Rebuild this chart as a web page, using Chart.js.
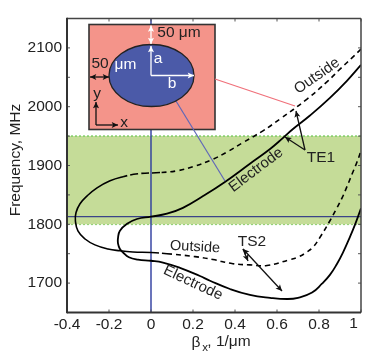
<!DOCTYPE html>
<html>
<head>
<meta charset="utf-8">
<title>Dispersion of TE1 and TS2</title>
<script src="https://cdn.jsdelivr.net/npm/chart.js@4"></script>
<style>
  html, body { margin: 0; padding: 0; background: #fff; }
  canvas { display: block; }
</style>
</head>
<body>
<canvas id="chart" width="378" height="364"></canvas>
<script>
// Curves, x in 1/um and y in MHz
const outsideX = [1.0, 0.957, 0.9, 0.843, 0.743, 0.614, 0.533, 0.438, 0.362, 0.29, 0.2, 0.124, 0.043, -0.062, -0.133, -0.195, -0.257, -0.305, -0.338, -0.357, -0.36, -0.348, -0.314, -0.267, -0.205, -0.148, -0.086, 0, 0.076, 0.21, 0.295, 0.39, 0.471, 0.552, 0.662, 0.705, 0.743, 0.771, 0.805, 0.852, 0.881, 0.91, 0.933, 0.957, 0.981, 1.0];
const outsideY = [2098, 2083, 2064, 2044, 2013, 1979, 1959, 1939, 1923, 1910, 1898, 1891, 1888, 1886, 1881, 1874, 1862, 1848, 1835, 1820, 1806, 1789, 1775, 1765, 1758, 1755, 1753, 1752, 1750, 1745, 1740, 1733, 1731, 1730, 1740, 1745, 1753, 1761, 1778, 1806, 1825, 1845, 1864, 1885, 1906, 1925];
const electrodeX = [1.0, 0.933, 0.852, 0.757, 0.676, 0.629, 0.567, 0.471, 0.352, 0.248, 0.152, 0.076, 0, -0.067, -0.114, -0.148, -0.157, -0.157, -0.148, -0.133, -0.105, -0.062, 0, 0.057, 0.138, 0.233, 0.281, 0.376, 0.471, 0.567, 0.648, 0.7, 0.767, 0.814, 0.852, 0.886, 0.914, 0.948, 0.971, 1.0];
const electrodeY = [2071, 2044, 2015, 1985, 1962, 1947, 1928, 1903, 1872, 1848, 1828, 1818, 1813, 1809, 1801, 1789, 1777, 1767, 1758, 1752, 1744, 1740, 1738, 1735, 1726, 1712, 1704, 1690, 1680, 1675, 1673, 1675, 1684, 1699, 1714, 1733, 1752, 1779, 1799, 1827];

const bandX = [-0.4, 1.0];
const bandTop = [1950, 1950];
const bandBottom = [1800, 1800];
const crossX = [-0.4, 1.0];
const crossY = [1813, 1813];
const zeroX = [0, 0];
const zeroY = [1650, 2150];

const xTickLabels = ['-0.4', '-0.2', '0', '0.2', '0.4', '0.6', '0.8', '1'];
const yTickLabels = ['2100', '2000', '1900', '1800', '1700'];

const FONT = '"Liberation Sans", Arial, sans-serif';
const INK = '#222';

function zip(xs, ys) {
  return xs.map((x, i) => ({ x: x, y: ys[i] }));
}

function arrowHead(ctx, x0, y0, x1, y1, size) {
  const a = Math.atan2(y1 - y0, x1 - x0);
  ctx.beginPath();
  ctx.moveTo(x1, y1);
  ctx.lineTo(x1 - size * Math.cos(a - 0.45), y1 - size * Math.sin(a - 0.45));
  ctx.lineTo(x1 - size * 0.7 * Math.cos(a), y1 - size * 0.7 * Math.sin(a));
  ctx.lineTo(x1 - size * Math.cos(a + 0.45), y1 - size * Math.sin(a + 0.45));
  ctx.closePath();
  ctx.fill();
}

function arrow(ctx, x0, y0, x1, y1, color, both) {
  ctx.strokeStyle = color;
  ctx.fillStyle = color;
  ctx.lineWidth = 1.3;
  ctx.setLineDash([]);
  ctx.beginPath();
  ctx.moveTo(x0, y0);
  ctx.lineTo(x1, y1);
  ctx.stroke();
  arrowHead(ctx, x0, y0, x1, y1, 7);
  if (both) arrowHead(ctx, x1, y1, x0, y0, 7);
}

function label(ctx, text, x, y, size, color, angle) {
  ctx.save();
  ctx.translate(x, y);
  ctx.rotate((angle || 0) * Math.PI / 180);
  ctx.font = size + 'px ' + FONT;
  ctx.fillStyle = color || INK;
  ctx.textAlign = 'center';
  ctx.textBaseline = 'middle';
  ctx.fillText(text, 0, 0);
  ctx.restore();
}

function line(ctx, x0, y0, x1, y1, color, width) {
  ctx.strokeStyle = color;
  ctx.lineWidth = width;
  ctx.beginPath();
  ctx.moveTo(x0, y0);
  ctx.lineTo(x1, y1);
  ctx.stroke();
}

// frame and inward ticks on all four sides
const framePlugin = {
  id: 'frame',
  afterDatasetsDraw(chart) {
    const ctx = chart.ctx;
    const a = chart.chartArea;
    const sx = chart.scales.x;
    const sy = chart.scales.y;
    ctx.save();
    ctx.setLineDash([]);
    sx.ticks.forEach(t => {
      const p = sx.getPixelForValue(t.value);
      line(ctx, p, a.bottom, p, a.bottom - 3, '#555', 1);
      line(ctx, p, a.top, p, a.top + 3, '#555', 1);
    });
    sy.ticks.forEach(t => {
      const p = sy.getPixelForValue(t.value);
      line(ctx, a.left, p, a.left + 3, p, '#555', 1);
      line(ctx, a.right, p, a.right - 3, p, '#555', 1);
    });
    line(ctx, a.left, a.top, a.right, a.top, '#444', 1.5);
    line(ctx, a.right, a.top, a.right, a.bottom, '#444', 1.5);
    line(ctx, a.left, a.top - 0.7, a.left, a.bottom + 0.7, '#333', 2);
    line(ctx, a.left, a.bottom, a.right, a.bottom, '#333', 2);
    ctx.restore();
  }
};

// inset with the elliptical electrode, pointers and curve labels
const annotationPlugin = {
  id: 'annotations',
  afterDraw(chart) {
    const ctx = chart.ctx;
    ctx.save();

    ctx.fillStyle = '#f4948a';
    ctx.fillRect(89, 24.5, 126, 105);
    ctx.strokeStyle = '#333';
    ctx.lineWidth = 1.6;
    ctx.strokeRect(89, 24.5, 126, 105);

    line(ctx, 215, 79, 295, 106, '#f0707a', 1.2);
    line(ctx, 176, 101, 225, 181, '#6068b8', 1.2);

    ctx.beginPath();
    ctx.ellipse(151.5, 75.5, 42.5, 31, 0, 0, Math.PI * 2);
    ctx.fillStyle = '#4b5aa8';
    ctx.fill();
    ctx.strokeStyle = '#222';
    ctx.lineWidth = 1.3;
    ctx.stroke();

    arrow(ctx, 151, 25.5, 151, 44, '#fff', true);
    arrow(ctx, 151, 75.5, 151, 46, '#fff');
    arrow(ctx, 151, 75.5, 194, 75.5, '#fff');
    arrow(ctx, 90, 77, 109, 77, '#111', true);
    arrow(ctx, 96, 125, 96, 102, '#111');
    arrow(ctx, 96, 125, 118, 125, '#111');

    label(ctx, '50 μm', 179, 33, 15.5);
    label(ctx, '50', 100, 64, 15.5);
    label(ctx, 'μm', 125.5, 64.5, 15.5, '#fff');
    label(ctx, 'a', 158, 59, 15.5, '#fff');
    label(ctx, 'b', 172, 84, 15.5, '#fff');
    label(ctx, 'y', 97, 94, 15.5);
    label(ctx, 'x', 124, 123, 15.5);

    arrow(ctx, 305, 150, 296, 111, '#111');
    arrow(ctx, 305, 150, 285, 137, '#111');
    arrow(ctx, 243, 249, 282, 291, '#111', true);
    arrow(ctx, 243, 249, 248, 261, '#111');

    label(ctx, 'TE1', 321, 158, 15.5);
    label(ctx, 'TS2', 252, 242, 15.5);
    label(ctx, 'Outside', 317, 76, 15, INK, -35);
    label(ctx, 'Outside', 195, 247, 14.5, INK, 3);
    label(ctx, 'Electrode', 256, 170, 15, INK, -37);
    label(ctx, 'Electrode', 193, 283, 15, INK, 25);

    // the last tick label sits left of its tick in the picture
    label(ctx, xTickLabels[xTickLabels.length - 1], 353.5, 323.5, 15.5);

    // axis titles
    label(ctx, 'Frequency, MHz', 16, 160, 15.5, INK, -90);
    label(ctx, 'β', 196, 343, 15.5);
    label(ctx, 'x', 205, 348, 11.5);
    label(ctx, ', 1/μm', 229, 342, 15.5);

    ctx.restore();
  }
};

function outsideDash(c) {
  const x = c.p0.parsed.x;
  if (x < -0.08) return [];
  if (x < 0.07) return [8, 3];
  return [5, 4];
}

const curve = { showLine: true, pointRadius: 0, borderColor: '#000', tension: 0.45, fill: false };
const flat = { showLine: true, pointRadius: 0, tension: 0, fill: false };

new Chart(document.getElementById('chart'), {
  type: 'scatter',
  data: {
    datasets: [
      { ...curve, label: 'Electrode', data: zip(electrodeX, electrodeY), borderWidth: 1.8 },
      { ...curve, label: 'Outside', data: zip(outsideX, outsideY), borderWidth: 1.6, segment: { borderDash: outsideDash } },
      { ...flat, label: 'x = 0', data: zip(zeroX, zeroY), borderColor: '#2b3a9e', borderWidth: 1.4 },
      { ...flat, label: '1813 MHz', data: zip(crossX, crossY), borderColor: '#3b4488', borderWidth: 1.4 },
      { ...flat, label: 'Band top', data: zip(bandX, bandTop), borderColor: '#84cf6c', borderWidth: 1.6, borderDash: [2, 2], fill: '+1', backgroundColor: '#c5dc98' },
      { ...flat, label: 'Band bottom', data: zip(bandX, bandBottom), borderColor: '#84cf6c', borderWidth: 1.6, borderDash: [2, 2] }
    ]
  },
  options: {
    responsive: false,
    animation: false,
    layout: { padding: { top: 18.5, right: 17 } },
    plugins: { legend: { display: false }, tooltip: { enabled: false } },
    scales: {
      x: {
        type: 'linear',
        min: -0.4,
        max: 1,
        afterFit: s => { s.height = 51.5; },
        grid: { display: false, drawTicks: false },
        border: { display: false },
        ticks: {
          stepSize: 0.2,
          autoSkip: false,
          maxRotation: 0,
          padding: 3,
          color: INK,
          font: { family: FONT, size: 15.5 },
          callback: (v, i) => i < xTickLabels.length - 1 ? xTickLabels[i] : ''
        }
      },
      y: {
        type: 'linear',
        min: 1650,
        max: 2150,
        afterFit: s => { s.width = 67; },
        grid: { display: false, drawTicks: false },
        border: { display: false },
        ticks: {
          stepSize: 50,
          autoSkip: false,
          padding: 5,
          color: INK,
          font: { family: FONT, size: 15.5 },
          callback: v => yTickLabels.includes(String(v)) ? String(v) : ''
        }
      }
    }
  },
  plugins: [framePlugin, annotationPlugin]
});
</script>
</body>
</html>
